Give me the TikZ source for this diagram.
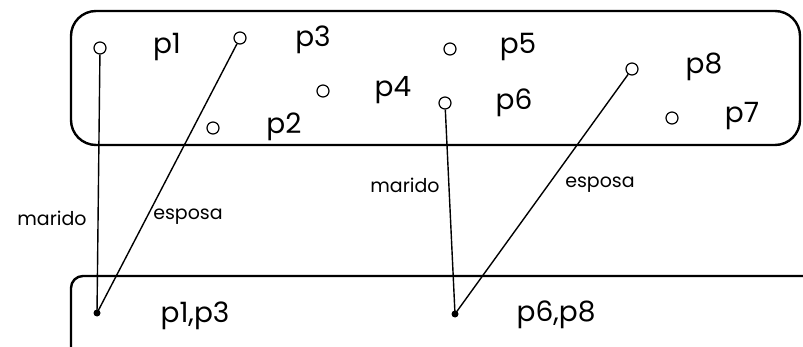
\documentclass[tikz,border=0pt]{standalone}
\usepackage{fontspec}
\setmainfont{Poppins}
\begin{document}
\begin{tikzpicture}[x=1pt,y=-1pt,
  pt/.style={circle,draw,line width=1.2pt,minimum size=12pt,inner sep=0pt},
  dot/.style={circle,fill,minimum size=7pt,inner sep=0pt},
  lbl/.style={font=\fontsize{28}{32}\selectfont,inner sep=0pt},
  elbl/.style={font=\fontsize{19}{22}\selectfont,inner sep=0pt},
  box/.style={line width=2.4pt},
  link/.style={line width=1.4pt}]
\useasboundingbox (0,0) rectangle (803,347);
\begin{scope}
\clip (0,0) rectangle (803,347);
\draw[box,rounded corners=25pt] (71,11) rectangle (800,145);
\draw[box,rounded corners=12pt] (71,276) rectangle (830,380);
\end{scope}
\node[pt] (c1) at (100,48) {};
\node[pt] (c3) at (240,38) {};
\node[pt] (c2) at (213,128) {};
\node[pt] (c4) at (323,91) {};
\node[pt] (c5) at (450,49) {};
\node[pt] (c6) at (445,103) {};
\node[pt] (c8) at (632,69) {};
\node[pt] (c7) at (672,118) {};
\node[lbl] (l1) at (167,47) {p1};
\node[lbl] (l3) at (313,40) {p3};
\node[lbl] (l2) at (284,127) {p2};
\node[lbl] (l4) at (393,90) {p4};
\node[lbl] (l5) at (518,47) {p5};
\node[lbl] (l6) at (514,103) {p6};
\node[lbl] (l8) at (704,67) {p8};
\node[lbl] (l7) at (742,116) {p7};
\node[dot] (d1) at (97,313) {};
\node[dot] (d2) at (455,314) {};
\node[lbl] (g1) at (195,316) {p1,p3};
\node[lbl] (g2) at (556,315) {p6,p8};
\draw[link] (c1) -- (d1.center);
\draw[link] (c3) -- (d1.center);
\draw[link] (c6) -- (d2.center);
\draw[link] (c8) -- (d2.center);
\node[elbl] (m1) at (52,218) {marido};
\node[elbl] (e1) at (188,217) {esposa};
\node[elbl] (m2) at (405,185) {marido};
\node[elbl] (e2) at (600,185) {esposa};
\end{tikzpicture}
\end{document}
